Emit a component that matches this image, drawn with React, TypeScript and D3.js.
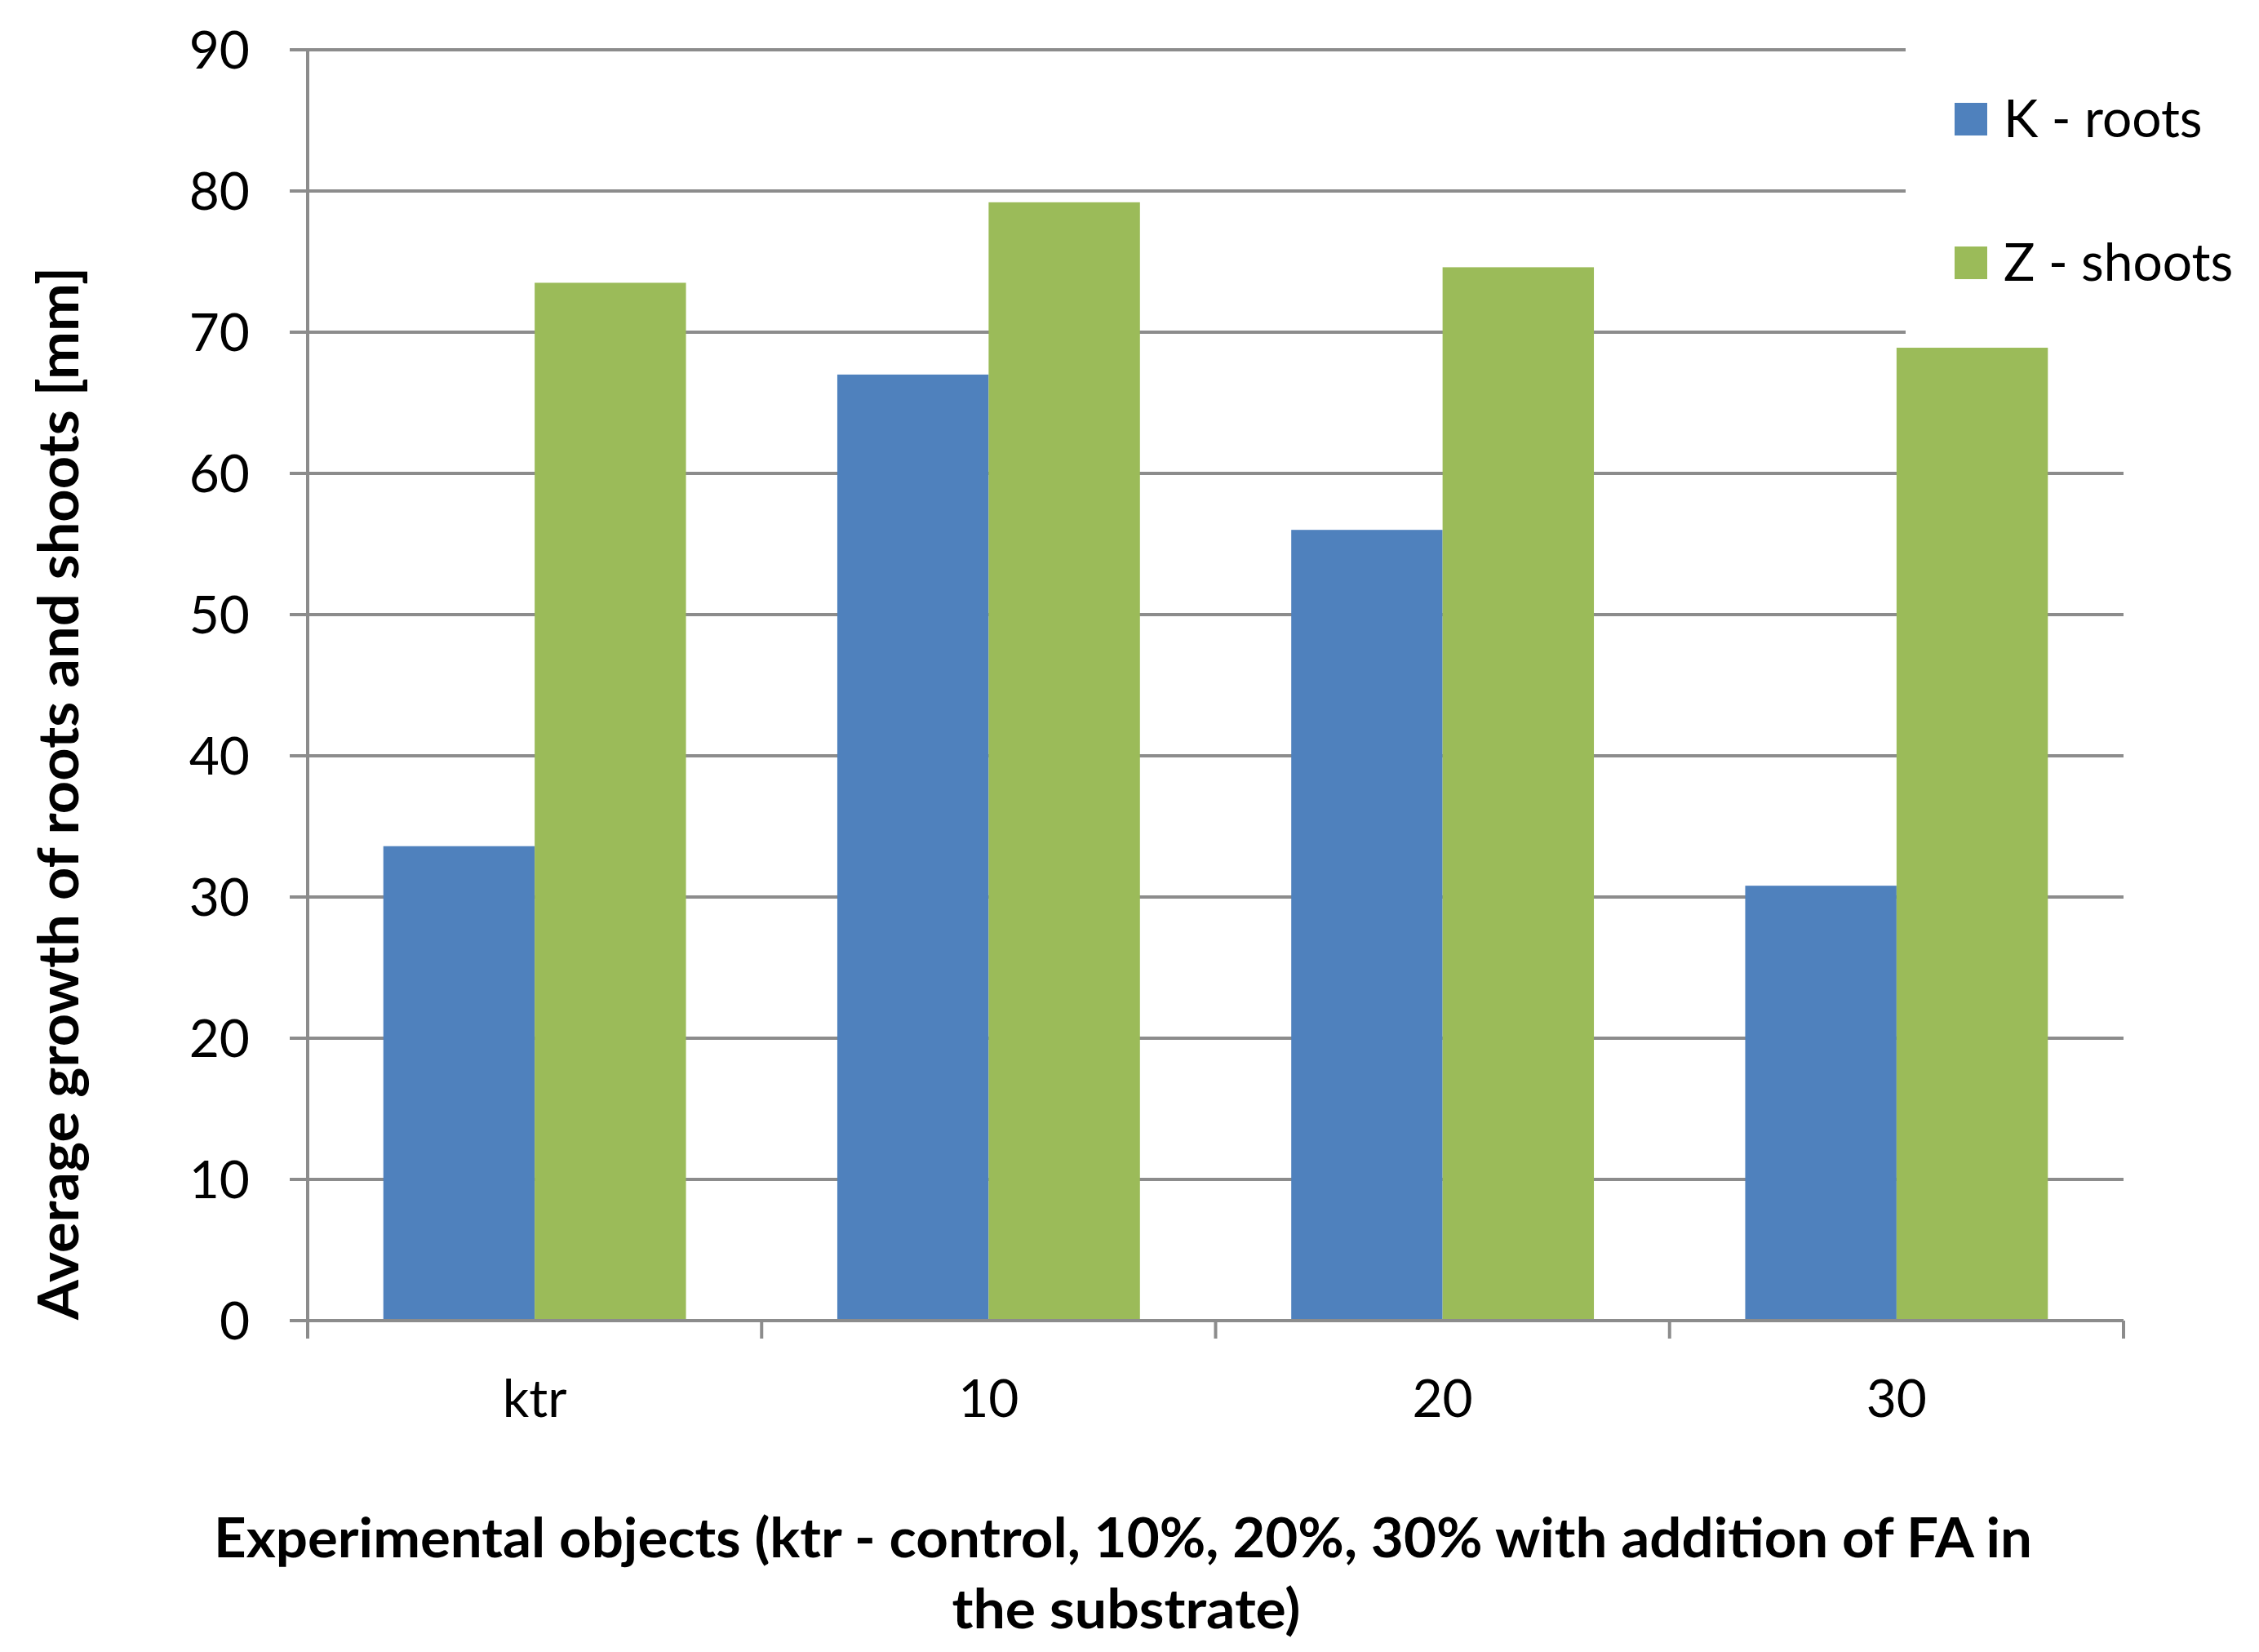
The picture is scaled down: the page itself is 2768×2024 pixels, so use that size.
import React from "react";
import * as d3 from "d3";

const categories = ["ktr", "10", "20", "30"];
const seriesNames = ["K - roots", "Z - shoots"];
const rootsValues = [33.6, 67.0, 56.0, 30.8];
const shootsValues = [73.5, 79.2, 74.6, 68.9];
const seriesColors = ["#4f81bd", "#9bbb59"];
const yTickValues = [0, 10, 20, 30, 40, 50, 60, 70, 80, 90];
const yTitle = "Average growth of roots and shoots [mm]";
const xTitleLines = [
  "Experimental objects (ktr - control, 10%, 20%, 30% with addition of FA in",
  "the substrate)",
];

const W = 2768;
const H = 2024;
const FONT = "Lato, 'Open Sans', sans-serif";

export default function App() {
  const left = 377;
  const right = 2602;
  const top = 61;
  const bottom = 1618;

  const x0 = d3.scaleBand<string>().domain(categories).range([left, right]).paddingInner(0).paddingOuter(0);
  const x1 = d3.scaleBand<string>().domain(seriesNames).range([0, x0.bandwidth()]).paddingInner(0).paddingOuter(0.5);
  const y = d3.scaleLinear().domain([0, 90]).range([bottom, top]);

  const series = [rootsValues, shootsValues];
  const grid = "#8c8c8c";

  const boundaries = categories.map((c) => x0(c) as number).concat([right]);

  return (
    <svg width={W} height={H} style={{ position: "absolute", left: 0, top: 0, background: "#fff" }} fontFamily={FONT}>
      <rect x={0} y={0} width={W} height={H} fill="#fff" />
      {/* gridlines */}
      {yTickValues.map((t) => (
        <line key={"g" + t} x1={355} x2={right} y1={y(t)} y2={y(t)} stroke={grid} strokeWidth={4} />
      ))}
      {/* legend background covering top-right gridlines */}
      <rect x={2335} y={0} width={W - 2335} height={418} fill="#fff" />
      {/* bars */}
      {series.map((vals, si) =>
        vals.map((v, ci) => (
          <rect
            key={"b" + si + "-" + ci}
            x={(x0(categories[ci]) as number) + (x1(seriesNames[si]) as number)}
            y={y(v)}
            width={x1.bandwidth()}
            height={y(0) - y(v)}
            fill={seriesColors[si]}
          />
        ))
      )}
      {/* axes */}
      <line x1={left} x2={left} y1={top - 2} y2={bottom} stroke={grid} strokeWidth={4} />
      <line x1={355} x2={right} y1={bottom} y2={bottom} stroke={grid} strokeWidth={4} />
      {boundaries.map((bx, i) => (
        <line key={"xt" + i} x1={bx} x2={bx} y1={bottom} y2={bottom + 22} stroke={grid} strokeWidth={4} />
      ))}
      {/* y tick labels */}
      {yTickValues.map((t) => (
        <text key={"yl" + t} x={306} y={y(t)} dy="0.36em" textAnchor="end" fontSize={64} fill="#000">
          {t}
        </text>
      ))}
      {/* x tick labels */}
      {categories.map((c) => (
        <text key={"xl" + c} x={(x0(c) as number) + x0.bandwidth() / 2} y={1736} textAnchor="middle" fontSize={64} fill="#000">
          {c}
        </text>
      ))}
      {/* y title */}
      <text
        transform={`translate(96, ${972}) rotate(-90)`}
        textAnchor="middle"
        fontSize={68}
        fontWeight="bold"
        fill="#000"
        textLength={1290}
        lengthAdjust="spacingAndGlyphs"
      >
        {yTitle}
      </text>
      {/* x title */}
      <text x={1376} y={1908} textAnchor="middle" fontSize={67} fontWeight="bold" fill="#000" textLength={2228} lengthAdjust="spacingAndGlyphs">
        {xTitleLines[0]}
      </text>
      <text x={1380} y={1995} textAnchor="middle" fontSize={67} fontWeight="bold" fill="#000" textLength={427} lengthAdjust="spacingAndGlyphs">
        {xTitleLines[1]}
      </text>
      {/* legend */}
      {seriesNames.map((name, i) => (
        <g key={"lg" + i}>
          <rect x={2395} y={126 + i * 176} width={40} height={40} fill={seriesColors[i]} />
          <text x={2455} y={168 + i * 176} fontSize={64} fill="#000">
            {name}
          </text>
        </g>
      ))}
    </svg>
  );
}
